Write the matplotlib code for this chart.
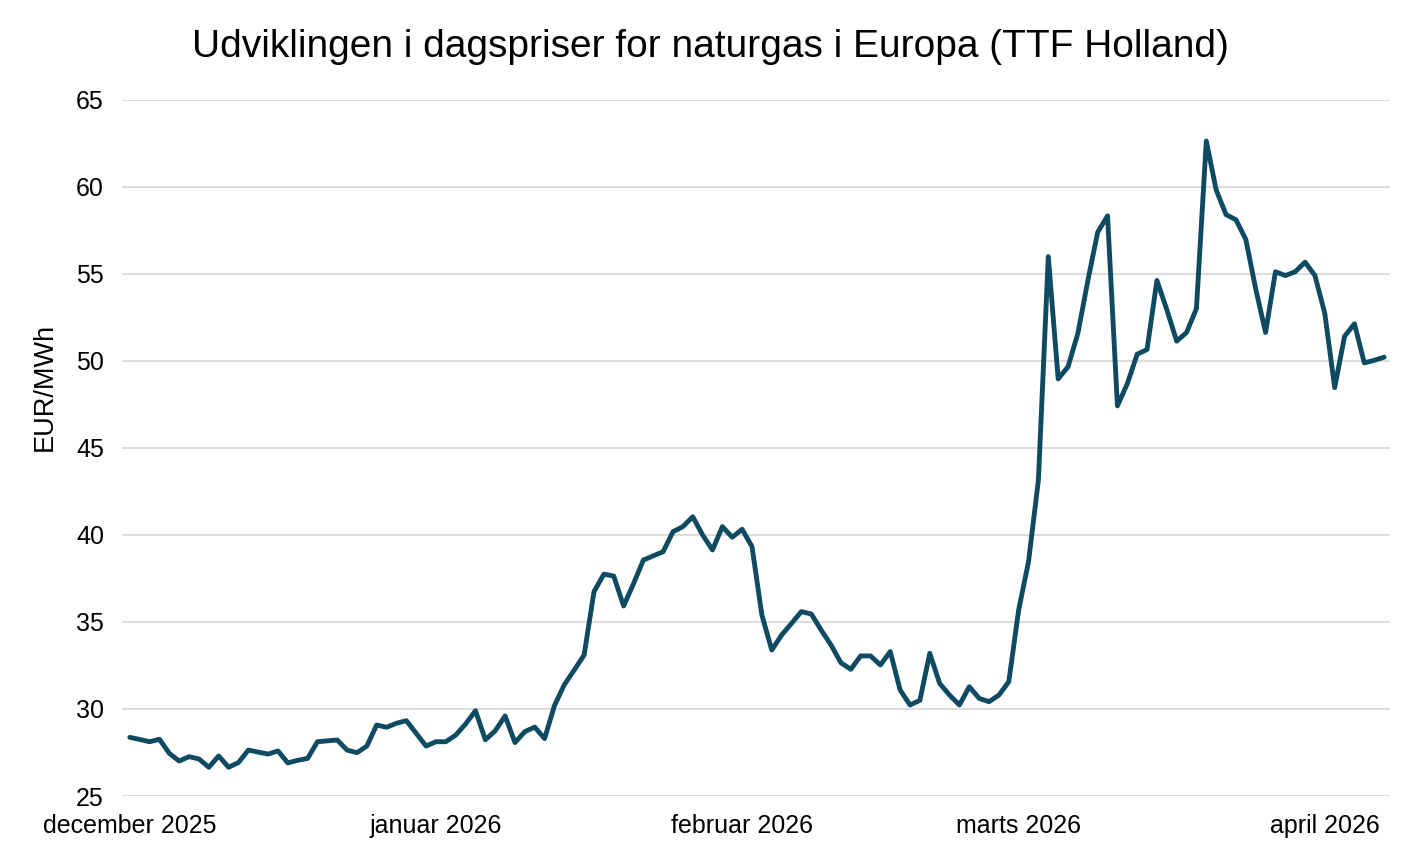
import matplotlib
matplotlib.use("Agg")
import matplotlib.pyplot as plt
import pandas as pd

start_date = "2025-12-01"
prices = [
    28.37, 28.25, 28.12, 28.26, 27.45, 27.01, 27.26, 27.13, 26.65, 27.30,
    26.65, 26.92, 27.64, 27.52, 27.41, 27.59, 26.90, 27.05, 27.16, 28.12,
    28.17, 28.22, 27.64, 27.49, 27.87, 29.08, 28.95, 29.18, 29.33, 28.60,
    27.87, 28.12, 28.12, 28.50, 29.14, 29.90, 28.23, 28.75, 29.60, 28.07,
    28.70, 28.96, 28.30, 30.20, 31.40, 32.24, 33.10, 36.74, 37.75, 37.64,
    35.92, 37.20, 38.56, 38.80, 39.04, 40.19, 40.48, 41.05, 40.00, 39.14,
    40.48, 39.87, 40.33, 39.33, 35.40, 33.39, 34.25, 34.92, 35.60, 35.46,
    34.54, 33.68, 32.66, 32.28, 33.05, 33.05, 32.53, 33.30, 31.09, 30.23,
    30.50, 33.20, 31.47, 30.80, 30.23, 31.28, 30.61, 30.42, 30.80, 31.57,
    35.69, 38.47, 43.16, 56.00, 48.97, 49.67, 51.60, 54.60, 57.40, 58.34,
    47.42, 48.69, 50.39, 50.66, 54.63, 52.95, 51.14, 51.64, 53.01, 62.64,
    59.83, 58.41, 58.12, 56.99, 54.15, 51.64, 55.13, 54.91, 55.13, 55.68,
    54.91, 52.73, 48.47, 51.42, 52.14, 49.89, 50.04, 50.22,
]
dates = pd.date_range(start_date, periods=len(prices), freq="D")

tick_dates = ["2025-12-01", "2026-01-01", "2026-02-01", "2026-03-01", "2026-04-01"]
tick_labels = ["december 2025", "januar 2026", "februar 2026", "marts 2026", "april 2026"]
y_ticks = [25, 30, 35, 40, 45, 50, 55, 60, 65]

title = "Udviklingen i dagspriser for naturgas i Europa (TTF Holland)"
ylabel = "EUR/MWh"

plt.rcParams["font.family"] = ["Liberation Sans", "DejaVu Sans"]

fig = plt.figure(figsize=(14.2, 8.57), dpi=100)
ax = fig.add_axes([122 / 1420, 1 - 796 / 857, (1390 - 122) / 1420, (796 - 100) / 857])

ax.plot(dates, prices, color="#0f4a63", linewidth=3.5, solid_joinstyle="round",
        solid_capstyle="round", zorder=3)

ax.set_ylim(25, 65)
ax.set_yticks(y_ticks)
ax.set_xlim(pd.Timestamp(start_date) - pd.Timedelta(hours=19),
            pd.Timestamp(start_date) + pd.Timedelta(days=127.6))
ax.set_xticks([pd.Timestamp(d) for d in tick_dates])
ax.set_xticklabels(tick_labels)

ax.grid(axis="y", color="#d9d9d9", linewidth=1.3, zorder=0)
ax.grid(axis="x", visible=False)
for s in ax.spines.values():
    s.set_visible(False)
ax.tick_params(axis="both", length=0, labelsize=18, colors="#000000")
ax.tick_params(axis="y", pad=13)
ax.tick_params(axis="x", pad=13)

fig.text(45 / 1420, 1 - 387 / 857, ylabel, rotation=90, ha="center", va="center",
         fontsize=19.5)
fig.text(0.5, 1 - 47 / 857, title, ha="center", va="center", fontsize=28)

fig.savefig("out.png", dpi=100, facecolor="white")
